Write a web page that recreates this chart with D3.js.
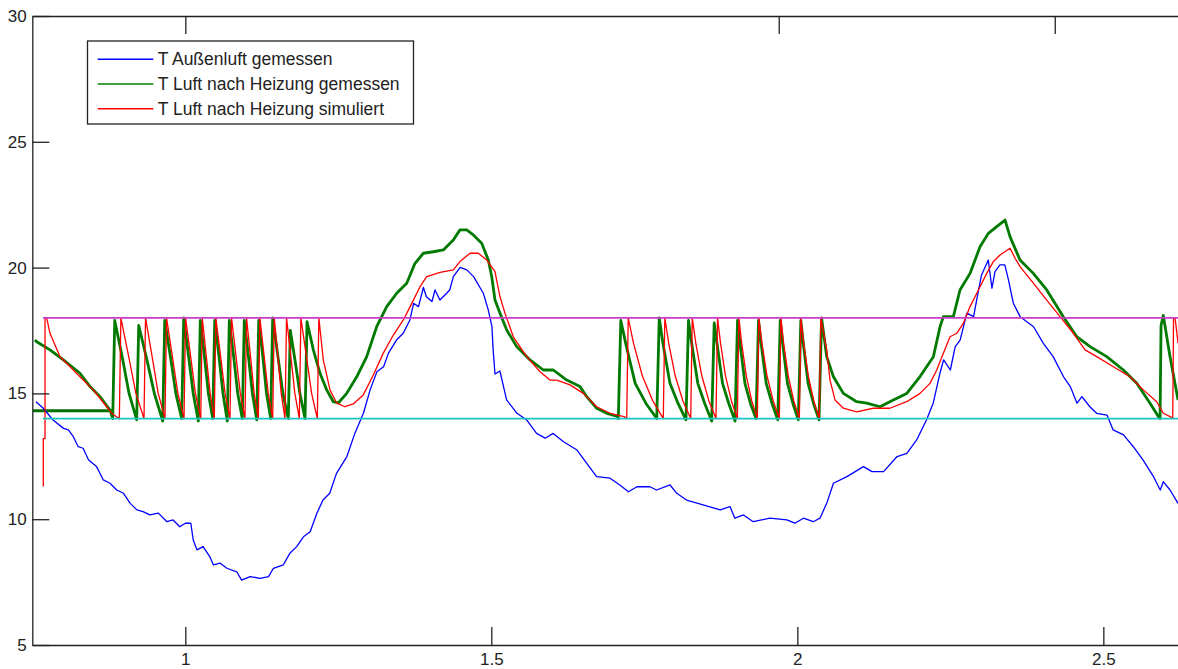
<!DOCTYPE html>
<html>
<head>
<meta charset="utf-8">
<script src="https://cdn.jsdelivr.net/npm/d3@7"></script>
<style>
  body { margin: 0; background: #fff; }
  svg { display: block; }
  .tick text, .legend text { font-family: "Liberation Sans", Arial, sans-serif; fill: #222; }
</style>
</head>
<body>
<div id="chart"></div>
<script>
const width = 1178, height = 669;

// axis ticks
const xTicks = [1, 1.5, 2, 2.5];
const topTicks = [1, 1.9696, 2.4206];
const yTicks = [5, 10, 15, 20, 25, 30];

// limit lines (setpoints)
const obereGrenze = [[0.7675, 18], [2.622, 18]];
const untereGrenze = [[0.7675, 14], [2.622, 14]];

// short constant segment at start
const gruenStart = [[0.7512, 14.31], [0.8806, 14.31]];

// T Außenluft gemessen
const aussenluft = [
  [0.756,14.67],[0.768,14.41],[0.784,13.94],[0.801,13.61],[0.809,13.55],[0.817,13.28],[0.825,12.88],[0.833,12.82],
  [0.842,12.35],[0.855,12.09],[0.866,11.56],[0.877,11.43],[0.888,11.16],[0.899,11.03],[0.910,10.63],[0.921,10.37],
  [0.931,10.30],[0.942,10.17],[0.956,10.24],[0.970,9.90],[0.980,9.97],[0.991,9.70],[1.000,9.84],[1.009,9.84],
  [1.013,9.17],[1.019,8.78],[1.029,8.91],[1.040,8.51],[1.046,8.18],[1.057,8.25],[1.068,8.05],[1.084,7.91],
  [1.092,7.58],[1.106,7.72],[1.122,7.65],[1.136,7.72],[1.144,8.05],[1.160,8.18],[1.171,8.65],[1.182,8.91],
  [1.193,9.30],[1.204,9.50],[1.215,10.24],[1.225,10.76],[1.236,11.03],[1.247,11.82],[1.264,12.49],[1.277,13.41],
  [1.291,14.21],[1.302,15.14],[1.313,15.86],[1.324,16.06],[1.332,16.60],[1.345,17.12],[1.356,17.39],[1.367,17.92],
  [1.373,18.58],[1.381,18.45],[1.389,19.21],[1.394,18.84],[1.403,18.65],[1.408,19.11],[1.416,18.71],[1.427,18.98],
  [1.432,19.11],[1.438,19.64],[1.449,20.01],[1.460,19.91],[1.471,19.64],[1.487,18.98],[1.495,18.32],[1.501,17.65],
  [1.503,16.73],[1.506,15.77],[1.514,15.89],[1.525,14.74],[1.542,14.21],[1.558,13.94],[1.574,13.41],[1.588,13.22],
  [1.601,13.41],[1.618,13.08],[1.640,12.75],[1.656,12.22],[1.672,11.69],[1.694,11.63],[1.710,11.36],[1.724,11.09],
  [1.738,11.29],[1.759,11.29],[1.770,11.16],[1.792,11.36],[1.803,11.03],[1.819,10.76],[1.846,10.57],[1.874,10.37],
  [1.890,10.50],[1.898,10.04],[1.912,10.17],[1.928,9.90],[1.955,10.04],[1.983,9.97],[1.996,9.84],[2.010,10.04],
  [2.026,9.90],[2.037,10.04],[2.048,10.63],[2.059,11.43],[2.081,11.69],[2.108,12.09],[2.122,11.89],[2.141,11.89],
  [2.163,12.49],[2.179,12.62],[2.195,13.15],[2.211,13.94],[2.222,14.61],[2.233,15.80],[2.239,16.33],[2.250,15.93],
  [2.258,16.86],[2.266,17.12],[2.277,18.19],[2.288,18.05],[2.293,18.71],[2.301,19.71],[2.312,20.30],[2.318,19.18],
  [2.323,19.84],[2.331,20.11],[2.339,20.11],[2.345,19.51],[2.353,18.58],[2.364,18.05],[2.375,17.85],[2.386,17.65],
  [2.402,16.99],[2.418,16.46],[2.435,15.66],[2.446,15.27],[2.457,14.61],[2.465,14.87],[2.478,14.47],[2.489,14.21],
  [2.506,14.14],[2.516,13.55],[2.533,13.35],[2.549,12.88],[2.565,12.35],[2.582,11.69],[2.593,11.16],[2.598,11.49],
  [2.609,11.16],[2.622,10.63]
];

// T Luft nach Heizung gemessen
const heizungGemessen = [
  [0.7544,17.13],[0.7572,17.05],[0.7789,16.73],[0.8007,16.33],[0.8279,15.80],[0.8443,15.27],[0.8606,14.87],[0.8769,14.34],[0.8797,14.14],
  [0.8814,14.0],[0.8847,17.9],[0.8973,16.4],[0.9081,15.0],
  [0.9206,13.95],[0.9239,17.7],[0.9376,16.3],[0.9494,15.0],
  [0.9631,13.9],[0.9664,17.9],[0.9761,16.4],[0.9845,15.0],
  [0.9941,14.0],[0.9974,18.0],[1.0057,16.4],[1.0129,15.0],
  [1.0212,13.9],[1.0245,17.9],[1.0316,16.4],[1.0377,15.0],
  [1.0448,14.0],[1.0481,17.9],[1.0553,16.4],[1.0615,15.0],
  [1.0686,13.9],[1.0719,17.9],[1.0793,16.4],[1.0857,15.0],
  [1.0931,14.0],[1.0964,17.9],[1.1035,16.4],[1.1096,15.0],
  [1.1167,13.95],[1.1200,17.9],[1.1269,16.4],[1.1327,15.0],
  [1.1395,14.0],[1.1428,18.0],[1.1517,16.4],[1.1594,15.0],
  [1.1683,14.0],[1.1716,17.5],[1.1800,16.2],[1.1872,15.0],
  [1.1956,14.0],[1.1989,17.85],
  [1.2092,16.73],[1.2201,15.80],[1.2310,15.14],[1.2418,14.67],[1.2500,14.62],[1.2637,15.0],[1.2801,15.66],[1.2964,16.46],
  [1.3127,17.65],[1.3291,18.45],[1.3454,18.98],[1.3618,19.38],[1.3753,20.17],[1.3889,20.57],[1.4052,20.63],[1.4216,20.70],
  [1.4379,21.10],[1.4488,21.50],[1.4598,21.50],[1.4706,21.30],[1.4843,20.97],[1.4951,20.30],[1.5007,19.64],[1.5060,18.71],
  [1.5142,18.19],[1.5252,17.52],[1.5415,16.86],[1.5632,16.33],[1.5850,15.93],[1.6013,15.93],[1.6232,15.53],[1.6449,15.27],
  [1.6559,14.87],[1.6722,14.41],[1.6886,14.21],[1.7049,14.10],
  [1.7075,14.0],[1.7116,17.9],[1.7204,16.9],[1.7351,15.4],[1.7527,14.6],
  [1.7703,14.0],[1.7744,18.0],[1.7810,16.9],[1.7919,15.4],[1.8051,14.6],
  [1.8181,13.95],[1.8222,17.9],[1.8279,16.9],[1.8374,15.4],[1.8487,14.6],
  [1.8601,13.9],[1.8642,17.8],[1.8693,16.9],[1.8778,15.4],[1.8880,14.6],
  [1.8982,13.9],[1.9023,17.9],[1.9068,16.9],[1.9144,15.4],[1.9234,14.6],
  [1.9325,14.0],[1.9366,17.9],[1.9413,16.9],[1.9492,15.4],[1.9586,14.6],
  [1.9680,13.95],[1.9721,17.9],[1.9765,16.9],[1.9839,15.4],[1.9928,14.6],
  [2.0016,13.95],[2.0057,17.9],[2.0102,16.9],[2.0176,15.4],[2.0265,14.6],
  [2.0355,13.95],[2.0396,18.0],
  [2.0480,16.46],[2.0588,15.67],[2.0752,15.0],[2.0970,14.67],[2.1134,14.61],[2.1351,14.47],[2.1569,14.74],[2.1788,15.0],
  [2.2005,15.67],[2.2223,16.46],[2.2332,17.65],[2.2386,18.05],[2.2549,18.05],[2.2658,19.11],[2.2822,19.77],[2.2985,20.83],
  [2.3121,21.36],[2.3258,21.63],[2.3394,21.89],[2.3475,21.23],[2.3639,20.30],[2.3856,19.77],[2.4075,19.11],[2.4346,18.05],
  [2.4565,17.26],[2.4783,16.86],[2.5056,16.46],[2.5327,15.93],[2.5546,15.40],[2.5763,14.61],[2.5899,14.08],[2.5927,14.0],
  [2.5943,17.7],[2.5980,18.1],[2.6090,16.46],[2.6221,14.74]
];

// T Luft nach Heizung simuliert
const heizungSimuliert = [
  [0.768,11.3],[0.768,13.2],[0.7708,13.2],[0.7708,18.0],[0.7735,18.0],[0.7789,17.39],[0.7953,16.46],[0.8062,16.20],
  [0.8279,15.66],[0.8497,15.14],[0.8716,14.47],[0.8797,14.21],[0.8868,14.08],
  [0.8922,14.0],[0.8947,18.0],[0.9080,16.4],[0.9193,15.0],
  [0.9325,14.0],[0.9350,18.0],[0.9462,16.4],[0.9557,15.0],
  [0.9668,14.0],[0.9693,18.0],[0.9793,16.4],[0.9879,15.0],
  [0.9979,14.0],[1.0004,18.0],[1.0091,16.4],[1.0165,15.0],
  [1.0252,14.0],[1.0277,18.0],[1.0346,16.4],[1.0406,15.0],
  [1.0474,14.0],[1.0499,18.0],[1.0580,16.4],[1.0650,15.0],
  [1.0730,14.0],[1.0755,18.0],[1.0832,16.4],[1.0899,15.0],
  [1.0975,14.0],[1.1000,18.0],[1.1068,16.4],[1.1125,15.0],
  [1.1193,14.0],[1.1218,18.0],[1.1292,16.4],[1.1355,15.0],
  [1.1428,14.0],[1.1453,18.0],[1.1515,16.4],[1.1567,15.0],
  [1.1629,14.0],[1.1654,18.0],[1.1727,16.4],[1.1790,15.0],
  [1.1863,14.0],[1.1888,18.0],[1.1983,16.4],[1.2064,15.0],
  [1.2157,14.0],[1.2182,18.0],
  [1.2255,16.33],[1.2364,15.14],[1.2474,14.61],[1.2609,14.47],[1.2745,14.58],[1.2908,14.94],[1.3072,15.73],[1.3235,16.60],
  [1.3399,17.32],[1.3562,17.92],[1.3672,18.44],[1.3835,19.24],[1.3944,19.64],[1.4162,19.81],[1.4379,19.91],[1.4488,20.24],
  [1.4652,20.57],[1.4788,20.57],[1.4925,20.30],[1.5060,19.84],[1.5142,18.84],[1.5224,18.18],[1.5359,17.25],[1.5578,16.46],
  [1.5796,15.86],[1.5959,15.53],[1.6069,15.53],[1.6286,15.34],[1.6503,15.0],[1.6722,14.47],[1.6940,14.21],[1.7168,14.08],
  [1.7212,14.0],[1.7237,18.0],[1.7323,17.0],[1.7467,15.7],[1.7639,14.7],
  [1.7810,14.0],[1.7835,18.0],[1.7898,17.0],[1.8004,15.7],[1.8131,14.7],
  [1.8258,14.0],[1.8283,18.0],[1.8341,17.0],[1.8439,15.7],[1.8555,14.7],
  [1.8671,14.0],[1.8696,18.0],[1.8745,17.0],[1.8826,15.7],[1.8923,14.7],
  [1.9020,14.0],[1.9045,18.0],[1.9090,17.0],[1.9166,15.7],[1.9256,14.7],
  [1.9346,14.0],[1.9371,18.0],[1.9421,17.0],[1.9505,15.7],[1.9606,14.7],
  [1.9706,14.0],[1.9731,18.0],[1.9776,17.0],[1.9852,15.7],[1.9942,14.7],
  [2.0033,14.0],[2.0058,18.0],[2.0103,17.0],[2.0179,15.7],[2.0269,14.7],
  [2.0359,14.0],[2.0384,18.0],
  [2.0480,16.73],[2.0534,15.53],[2.0616,14.74],[2.0752,14.41],[2.0970,14.27],[2.1242,14.41],[2.1513,14.41],[2.1786,14.67],
  [2.2005,15.0],[2.2168,15.40],[2.2278,15.93],[2.2386,16.60],[2.2495,17.25],[2.2605,17.39],[2.2714,17.79],[2.2822,18.45],
  [2.2932,18.98],[2.3095,19.77],[2.3203,20.24],[2.3312,20.50],[2.3476,20.77],[2.3558,20.37],[2.3639,20.04],[2.3856,19.38],
  [2.4075,18.71],[2.4293,18.05],[2.4510,17.39],[2.4701,16.73],[2.4892,16.46],[2.5164,16.06],[2.5436,15.66],[2.5654,15.14],
  [2.5872,14.67],[2.5980,14.21],[2.6090,14.08],[2.6134,14.0],[2.6147,18.0],[2.6172,18.0],[2.6221,17.0]
];

const legendLabels = ["T Außenluft gemessen", "T Luft nach Heizung gemessen", "T Luft nach Heizung simuliert"];
const legendColors = ["#0000ff", "#008000", "#ff0000"];

const plot = {left: 32.3, right: 1178, top: 16, bottom: 645};

const svg = d3.select("#chart")
  .append("svg")
    .attr("width", width)
    .attr("height", height);

const x = d3.scaleLinear()
  .domain([0.75, 2.622])
  .range([plot.left, plot.right]);

const y = d3.scaleLinear()
  .domain([5, 30])
  .range([plot.bottom, plot.top]);

svg.append("defs").append("clipPath")
    .attr("id", "clip")
  .append("rect")
    .attr("x", plot.left)
    .attr("y", plot.top)
    .attr("width", plot.right - plot.left)
    .attr("height", plot.bottom - plot.top);

const line = d3.line()
  .x(d => x(d[0]))
  .y(d => y(d[1]));

const lines = svg.append("g").attr("clip-path", "url(#clip)");

lines.append("path").datum(gruenStart)
  .attr("d", line).attr("fill", "none")
  .attr("stroke", "#007000").attr("stroke-width", 3.2);

lines.append("path").datum(aussenluft)
  .attr("d", line).attr("fill", "none")
  .attr("stroke", "#0000ff").attr("stroke-width", 1.3)
  .attr("stroke-linejoin", "round");

lines.append("path").datum(heizungGemessen)
  .attr("d", line).attr("fill", "none")
  .attr("stroke", "#007a00").attr("stroke-width", 2.8)
  .attr("stroke-linejoin", "round");

lines.append("path").datum(heizungSimuliert)
  .attr("d", line).attr("fill", "none")
  .attr("stroke", "#ff0000").attr("stroke-width", 1.3)
  .attr("stroke-linejoin", "round");

lines.append("path").datum(obereGrenze)
  .attr("d", line).attr("fill", "none")
  .attr("stroke", "#c83cc8").attr("stroke-width", 1.8);

lines.append("path").datum(untereGrenze)
  .attr("d", line).attr("fill", "none")
  .attr("stroke", "#1cc4c4").attr("stroke-width", 1.8);

// axes, ticks pointing inward
const fmt = d3.format("");

const xAxis = svg.append("g")
  .attr("transform", `translate(0,${plot.bottom})`)
  .call(d3.axisBottom(x).tickValues(xTicks).tickSize(-18).tickSizeOuter(0).tickPadding(8).tickFormat(fmt));

const xTop = svg.append("g")
  .attr("transform", `translate(0,${plot.top})`)
  .call(d3.axisTop(x).tickValues(topTicks).tickSize(-18).tickSizeOuter(0).tickFormat(""));

const yAxis = svg.append("g")
  .attr("transform", `translate(${plot.left},0)`)
  .call(d3.axisLeft(y).tickValues(yTicks).tickSize(-17).tickSizeOuter(0).tickPadding(5.6).tickFormat(fmt));

[xAxis, xTop, yAxis].forEach(g => {
  g.select(".domain").attr("stroke", "#222").attr("stroke-width", 1.3);
  g.selectAll(".tick line").attr("stroke", "#222").attr("stroke-width", 1.3);
  g.selectAll(".tick text").style("font-size", "17px");
});

// legend
const legend = svg.append("g").attr("class", "legend");

legend.append("rect")
  .attr("x", 87.5)
  .attr("y", 41)
  .attr("width", 326)
  .attr("height", 83)
  .attr("fill", "#fff")
  .attr("stroke", "#222")
  .attr("stroke-width", 1.3);

const legendItems = legend.selectAll(".legend-item")
  .data(legendLabels)
  .join("g")
    .attr("class", "legend-item")
    .attr("transform", (d, i) => `translate(0, ${59.3 + i * 24.7})`);

legendItems.append("line")
  .attr("x1", 97.7)
  .attr("x2", 153.3)
  .attr("stroke", (d, i) => legendColors[i])
  .attr("stroke-width", 1.4);

legendItems.append("text")
  .attr("x", 157.7)
  .attr("dy", "0.35em")
  .style("font-size", "17.5px")
  .text(d => d);
</script>
</body>
</html>
